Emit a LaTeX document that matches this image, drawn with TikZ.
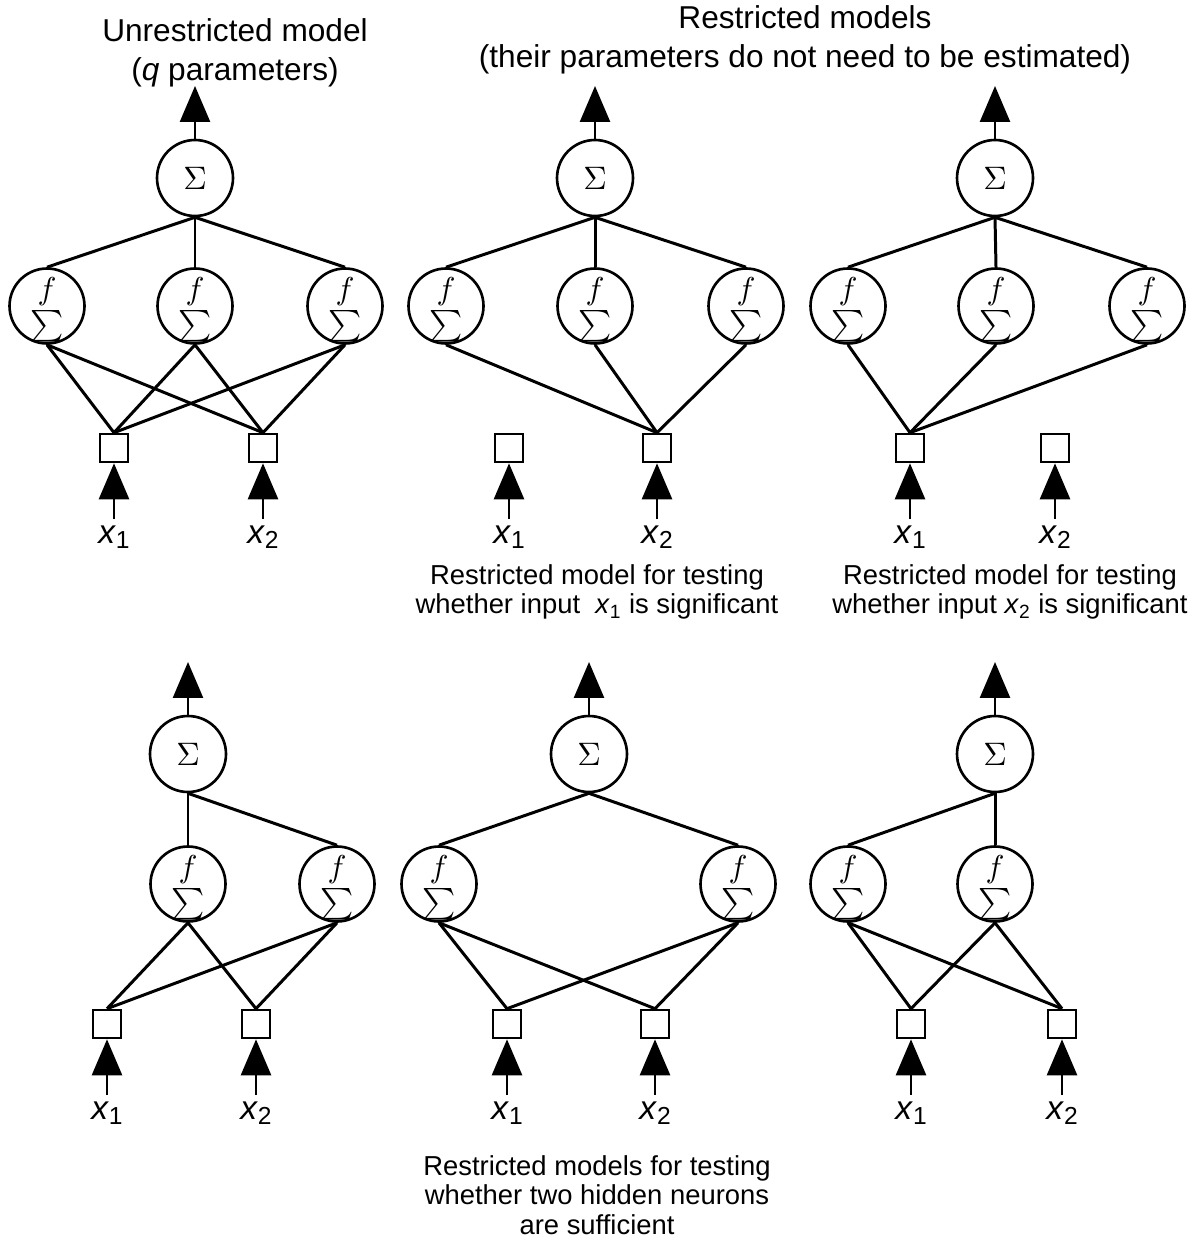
\documentclass[tikz,border=0pt]{standalone}
\usepackage{amsmath}
\usepackage{fontspec}
\setmainfont{Liberation Sans}
\usetikzlibrary{arrows.meta}
\newcommand{\inlab}[1]{\textit{x}\raisebox{-3pt}{\fontsize{14}{14}\selectfont #1}}
\newcommand{\outsym}{\scalebox{1.85}{$\Sigma$}}
\newcommand{\actsym}{\scalebox{1.8}{$f$}}
\newcommand{\sumsym}{\scalebox{1.8}{$\sum$}}

\begin{document}
\begin{tikzpicture}[x=0.02cm,y=-0.02cm,
	outn/.style={circle,draw,line width=1.5pt,minimum size=1.52cm,inner sep=0pt,font=\normalsize},
	hidn/.style={circle,draw,line width=1.5pt,minimum size=1.5cm,inner sep=0pt,
		label={[yshift=0.28cm,font=\normalsize,inner sep=0pt]center:\actsym},
		label={[yshift=-0.41cm,font=\normalsize,inner sep=0pt]center:\sumsym}},
	inn/.style={rectangle,draw,line width=1.5pt,minimum size=0.56cm,inner sep=0pt},
	wire/.style={line width=1.7pt},
	sig/.style={line width=1.5pt,-{Triangle[width=0.6cm,length=0.72cm]}},
	lab/.style={anchor=base,font=\fontsize{19}{22}\selectfont,inner sep=0pt},
	ttl/.style={align=center,font=\fontsize{18}{22.2}\selectfont},
	captxt/.style={align=center,font=\fontsize{15.6}{16.8}\selectfont}]
			%%%%% START %%%%%
			\useasboundingbox (0,0) rectangle (1195,1243);
			
			\node[ttl] (ttl1) at (235,53) {Unrestricted model\\(\textit{q} parameters)};
			\node[ttl] (ttl2) at (805,40) {Restricted models\\(their parameters do not need to be estimated)};
			
			% unrestricted model
			\node[outn] (a0) at (195,178) {\outsym};
			\node[hidn] (a1) at (47,306) {};
			\node[hidn] (a2) at (195,306) {};
			\node[hidn] (a3) at (345,306) {};
			\node[inn] (ax1) at (114,448) {};
			\node[inn] (ax2) at (263,448) {};
			\draw[wire] (a0.south) -- (a1.north);
			\draw[wire] (a0.south) -- (a2.north);
			\draw[wire] (a0.south) -- (a3.north);
			\draw[wire] (a1.south) -- (ax1.north);
			\draw[wire] (a1.south) -- (ax2.north);
			\draw[wire] (a2.south) -- (ax1.north);
			\draw[wire] (a2.south) -- (ax2.north);
			\draw[wire] (a3.south) -- (ax1.north);
			\draw[wire] (a3.south) -- (ax2.north);
			\coordinate (a0t) at (195,86);
			\draw[sig] (a0.north) -- (a0t);
			\coordinate (ax1b) at (114,519);
			\coordinate (ax2b) at (263,519);
			\draw[sig] (ax1b) -- (ax1.south);
			\draw[sig] (ax2b) -- (ax2.south);
			\node[lab] (ax1l) at (114,543) {\inlab{1}};
			\node[lab] (ax2l) at (263,543) {\inlab{2}};
			
			% without x1
			\node[outn] (b0) at (595,178) {\outsym};
			\node[hidn] (b1) at (446,306) {};
			\node[hidn] (b2) at (595,306) {};
			\node[hidn] (b3) at (746,306) {};
			\node[inn] (bx1) at (509,448) {};
			\node[inn] (bx2) at (657,448) {};
			\draw[wire] (b0.south) -- (b1.north);
			\draw[wire] (b0.south) -- (b2.north);
			\draw[wire] (b0.south) -- (b3.north);
			\draw[wire] (b1.south) -- (bx2.north);
			\draw[wire] (b2.south) -- (bx2.north);
			\draw[wire] (b3.south) -- (bx2.north);
			\coordinate (b0t) at (595,86);
			\draw[sig] (b0.north) -- (b0t);
			\coordinate (bx1b) at (509,519);
			\coordinate (bx2b) at (657,519);
			\draw[sig] (bx1b) -- (bx1.south);
			\draw[sig] (bx2b) -- (bx2.south);
			\node[lab] (bx1l) at (509,543) {\inlab{1}};
			\node[lab] (bx2l) at (657,543) {\inlab{2}};
			\node[captxt] (cap1) at (597,592) {Restricted model for testing\\whether input \ \textit{x}\textsubscript{1} is significant};
			
			% without x2
			\node[outn] (c0) at (995,178) {\outsym};
			\node[hidn] (c1) at (848,306) {};
			\node[hidn] (c2) at (996,306) {};
			\node[hidn] (c3) at (1147,306) {};
			\node[inn] (cx1) at (910,448) {};
			\node[inn] (cx2) at (1055,448) {};
			\draw[wire] (c0.south) -- (c1.north);
			\draw[wire] (c0.south) -- (c2.north);
			\draw[wire] (c0.south) -- (c3.north);
			\draw[wire] (c1.south) -- (cx1.north);
			\draw[wire] (c2.south) -- (cx1.north);
			\draw[wire] (c3.south) -- (cx1.north);
			\coordinate (c0t) at (995,86);
			\draw[sig] (c0.north) -- (c0t);
			\coordinate (cx1b) at (910,519);
			\coordinate (cx2b) at (1055,519);
			\draw[sig] (cx1b) -- (cx1.south);
			\draw[sig] (cx2b) -- (cx2.south);
			\node[lab] (cx1l) at (910,543) {\inlab{1}};
			\node[lab] (cx2l) at (1055,543) {\inlab{2}};
			\node[captxt] (cap2) at (1010,592) {Restricted model for testing\\whether input \textit{x}\textsubscript{2} is significant};
			
			% two hidden neurons, first
			\node[outn] (d0) at (188,754) {\outsym};
			\node[hidn] (d1) at (188,884) {};
			\node[hidn] (d2) at (337,884) {};
			\node[inn] (dx1) at (107,1024) {};
			\node[inn] (dx2) at (256,1024) {};
			\draw[wire] (d0.south) -- (d1.north);
			\draw[wire] (d0.south) -- (d2.north);
			\draw[wire] (d1.south) -- (dx1.north);
			\draw[wire] (d1.south) -- (dx2.north);
			\draw[wire] (d2.south) -- (dx1.north);
			\draw[wire] (d2.south) -- (dx2.north);
			\coordinate (d0t) at (188,662);
			\draw[sig] (d0.north) -- (d0t);
			\coordinate (dx1b) at (107,1095);
			\coordinate (dx2b) at (256,1095);
			\draw[sig] (dx1b) -- (dx1.south);
			\draw[sig] (dx2b) -- (dx2.south);
			\node[lab] (dx1l) at (107,1119) {\inlab{1}};
			\node[lab] (dx2l) at (256,1119) {\inlab{2}};
			
			% two hidden neurons, second
			\node[outn] (e0) at (589,754) {\outsym};
			\node[hidn] (e1) at (439,884) {};
			\node[hidn] (e2) at (738,884) {};
			\node[inn] (ex1) at (507,1024) {};
			\node[inn] (ex2) at (655,1024) {};
			\draw[wire] (e0.south) -- (e1.north);
			\draw[wire] (e0.south) -- (e2.north);
			\draw[wire] (e1.south) -- (ex1.north);
			\draw[wire] (e1.south) -- (ex2.north);
			\draw[wire] (e2.south) -- (ex1.north);
			\draw[wire] (e2.south) -- (ex2.north);
			\coordinate (e0t) at (589,662);
			\draw[sig] (e0.north) -- (e0t);
			\coordinate (ex1b) at (507,1095);
			\coordinate (ex2b) at (655,1095);
			\draw[sig] (ex1b) -- (ex1.south);
			\draw[sig] (ex2b) -- (ex2.south);
			\node[lab] (ex1l) at (507,1119) {\inlab{1}};
			\node[lab] (ex2l) at (655,1119) {\inlab{2}};
			\node[captxt] (cap3) at (597,1195) {Restricted models for testing\\whether two hidden neurons\\are sufficient};
			
			% two hidden neurons, third
			\node[outn] (g0) at (995,754) {\outsym};
			\node[hidn] (g1) at (848,884) {};
			\node[hidn] (g2) at (995,884) {};
			\node[inn] (gx1) at (911,1024) {};
			\node[inn] (gx2) at (1062,1024) {};
			\draw[wire] (g0.south) -- (g1.north);
			\draw[wire] (g0.south) -- (g2.north);
			\draw[wire] (g1.south) -- (gx1.north);
			\draw[wire] (g1.south) -- (gx2.north);
			\draw[wire] (g2.south) -- (gx1.north);
			\draw[wire] (g2.south) -- (gx2.north);
			\coordinate (g0t) at (995,662);
			\draw[sig] (g0.north) -- (g0t);
			\coordinate (gx1b) at (911,1095);
			\coordinate (gx2b) at (1062,1095);
			\draw[sig] (gx1b) -- (gx1.south);
			\draw[sig] (gx2b) -- (gx2.south);
			\node[lab] (gx1l) at (911,1119) {\inlab{1}};
			\node[lab] (gx2l) at (1062,1119) {\inlab{2}};
			
			%%%%% END %%%%%
\end{tikzpicture}
\end{document}
